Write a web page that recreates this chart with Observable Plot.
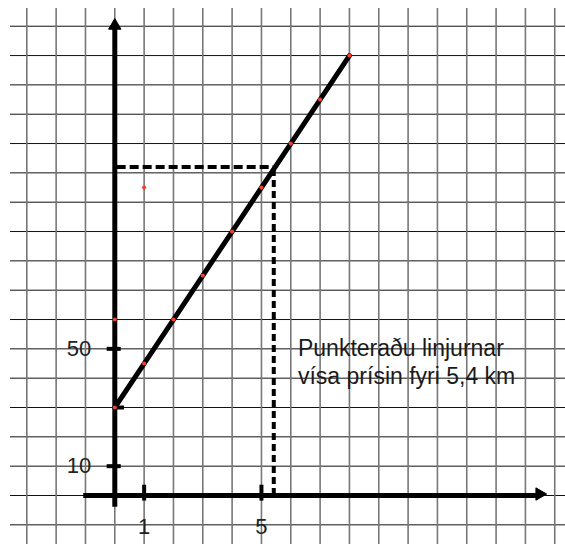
<!DOCTYPE html>
<html>
<head>
<meta charset="utf-8">
<script src="https://cdn.jsdelivr.net/npm/d3@7"></script>
<script src="https://cdn.jsdelivr.net/npm/@observablehq/plot@0.6"></script>
<style>
  html, body { margin: 0; padding: 0; background: #fff; }
</style>
</head>
<body>
<div id="chart"></div>
<script>
// Kilometres and price along the line
const km = [0, 1, 2, 3, 4, 5, 6, 7, 8];
const price = [30, 45, 60, 75, 90, 105, 120, 135, 150];
// stray red marks on the paper
const strayKm = [0, 1];
const strayPrice = [60, 105];
// the query shown by dotted lines
const queryKm = 5.4;
const queryPrice = 112;
// grid paper lines
const gridKm = d3.range(-3, 16, 1);
const gridPrice = d3.range(-10, 170, 10);
// axis tick labels
const yTickValues = [10, 50];
const yTickLabels = ["10", "50"];
const xTickValues = [1, 5];
const xTickLabels = ["1", "5"];
const noteText = "Punkteraðu linjurnar\nvísa prísin fyri 5,4 km";

const W = 565, H = 544;
const cell = 29.33;          // px per grid cell
const originX = 114.3, originY = 495;
const xDomain = [-originX / cell, (W - originX) / cell];
const yDomain = [-(H - originY) / cell * 10, originY / cell * 10];

const linePts = km.map((k, i) => ({km: k, price: price[i]}));
const strayPts = strayKm.map((k, i) => ({km: k, price: strayPrice[i]}));
const yTicks = yTickValues.map((v, i) => ({v, label: yTickLabels[i]}));
const xTicks = xTickValues.map((v, i) => ({v, label: xTickLabels[i]}));

const chart = Plot.plot({
  width: W,
  height: H,
  marginLeft: 0, marginRight: 0, marginTop: 0, marginBottom: 0,
  x: {domain: xDomain, axis: null},
  y: {domain: yDomain, axis: null},
  style: {fontFamily: "'Liberation Sans', Arial, sans-serif", background: "#fff"},
  marks: [
    // grid paper
    Plot.ruleY(gridPrice, {x1: -3.556, x2: xDomain[1], stroke: "#111", strokeWidth: 1}),
    Plot.ruleX(gridKm, {y1: yDomain[0], y2: 166.0, stroke: "#777", strokeWidth: 1.6}),
    // annotation
    Plot.text([noteText], {
      x: 6.245, y: 54.5, text: d => d, textAnchor: "start", lineAnchor: "top",
      fontSize: 23, lineHeight: 1.22, fill: "#1a1a1a"
    }),
    // dotted reading lines
    Plot.ruleY([queryPrice], {x1: 0.08, x2: queryKm + 0.02, stroke: "#000", strokeWidth: 4, strokeDasharray: "9,4"}),
    Plot.ruleX([queryKm + 0.02], {y1: 0, y2: queryPrice, stroke: "#000", strokeWidth: 4, strokeDasharray: "7,4"}),
    // axes
    Plot.ruleX([0], {y1: -4, y2: 160.5, stroke: "#000", strokeWidth: 5}),
    Plot.dot([0], {x: 0, y: 160.2, symbol: "triangle", r: 4.6, fill: "#000", stroke: "#000", strokeWidth: 1}),
    Plot.ruleY([0], {x1: -1.06, x2: 14.45, stroke: "#000", strokeWidth: 5}),
    Plot.dot([0], {x: 14.48, y: 0.5, symbol: "triangle", r: 4.6, rotate: 90, fill: "#000", stroke: "#000", strokeWidth: 1}),
    // tick marks
    Plot.ruleY(yTicks, {y: "v", x1: -0.26, x2: 0.22, stroke: "#000", strokeWidth: 4}),
    Plot.ruleY([price[0]], {x1: 0, x2: 0.33, stroke: "#000", strokeWidth: 4}),
    Plot.ruleX(xTicks, {x: "v", y1: -1.9, y2: 3.5, stroke: "#000", strokeWidth: 4}),
    // tick labels
    Plot.text(yTicks, {x: -0.8, y: "v", text: "label", textAnchor: "end", fontSize: 22, fill: "#222"}),
    Plot.text(xTicks, {x: "v", y: -10.6, text: "label", textAnchor: "middle", fontSize: 22, fill: "#222"}),
    // price line
    Plot.line(linePts, {x: "km", y: "price", stroke: "#000", strokeWidth: 5, strokeLinecap: "round"}),
    // red dots
    Plot.dot(linePts, {x: "km", y: "price", r: 2.1, fill: "#f04030", stroke: "none"}),
    Plot.dot(strayPts, {x: "km", y: "price", r: 2.1, fill: "#f04030", stroke: "none"})
  ]
});
document.getElementById("chart").appendChild(chart);
</script>
</body>
</html>
